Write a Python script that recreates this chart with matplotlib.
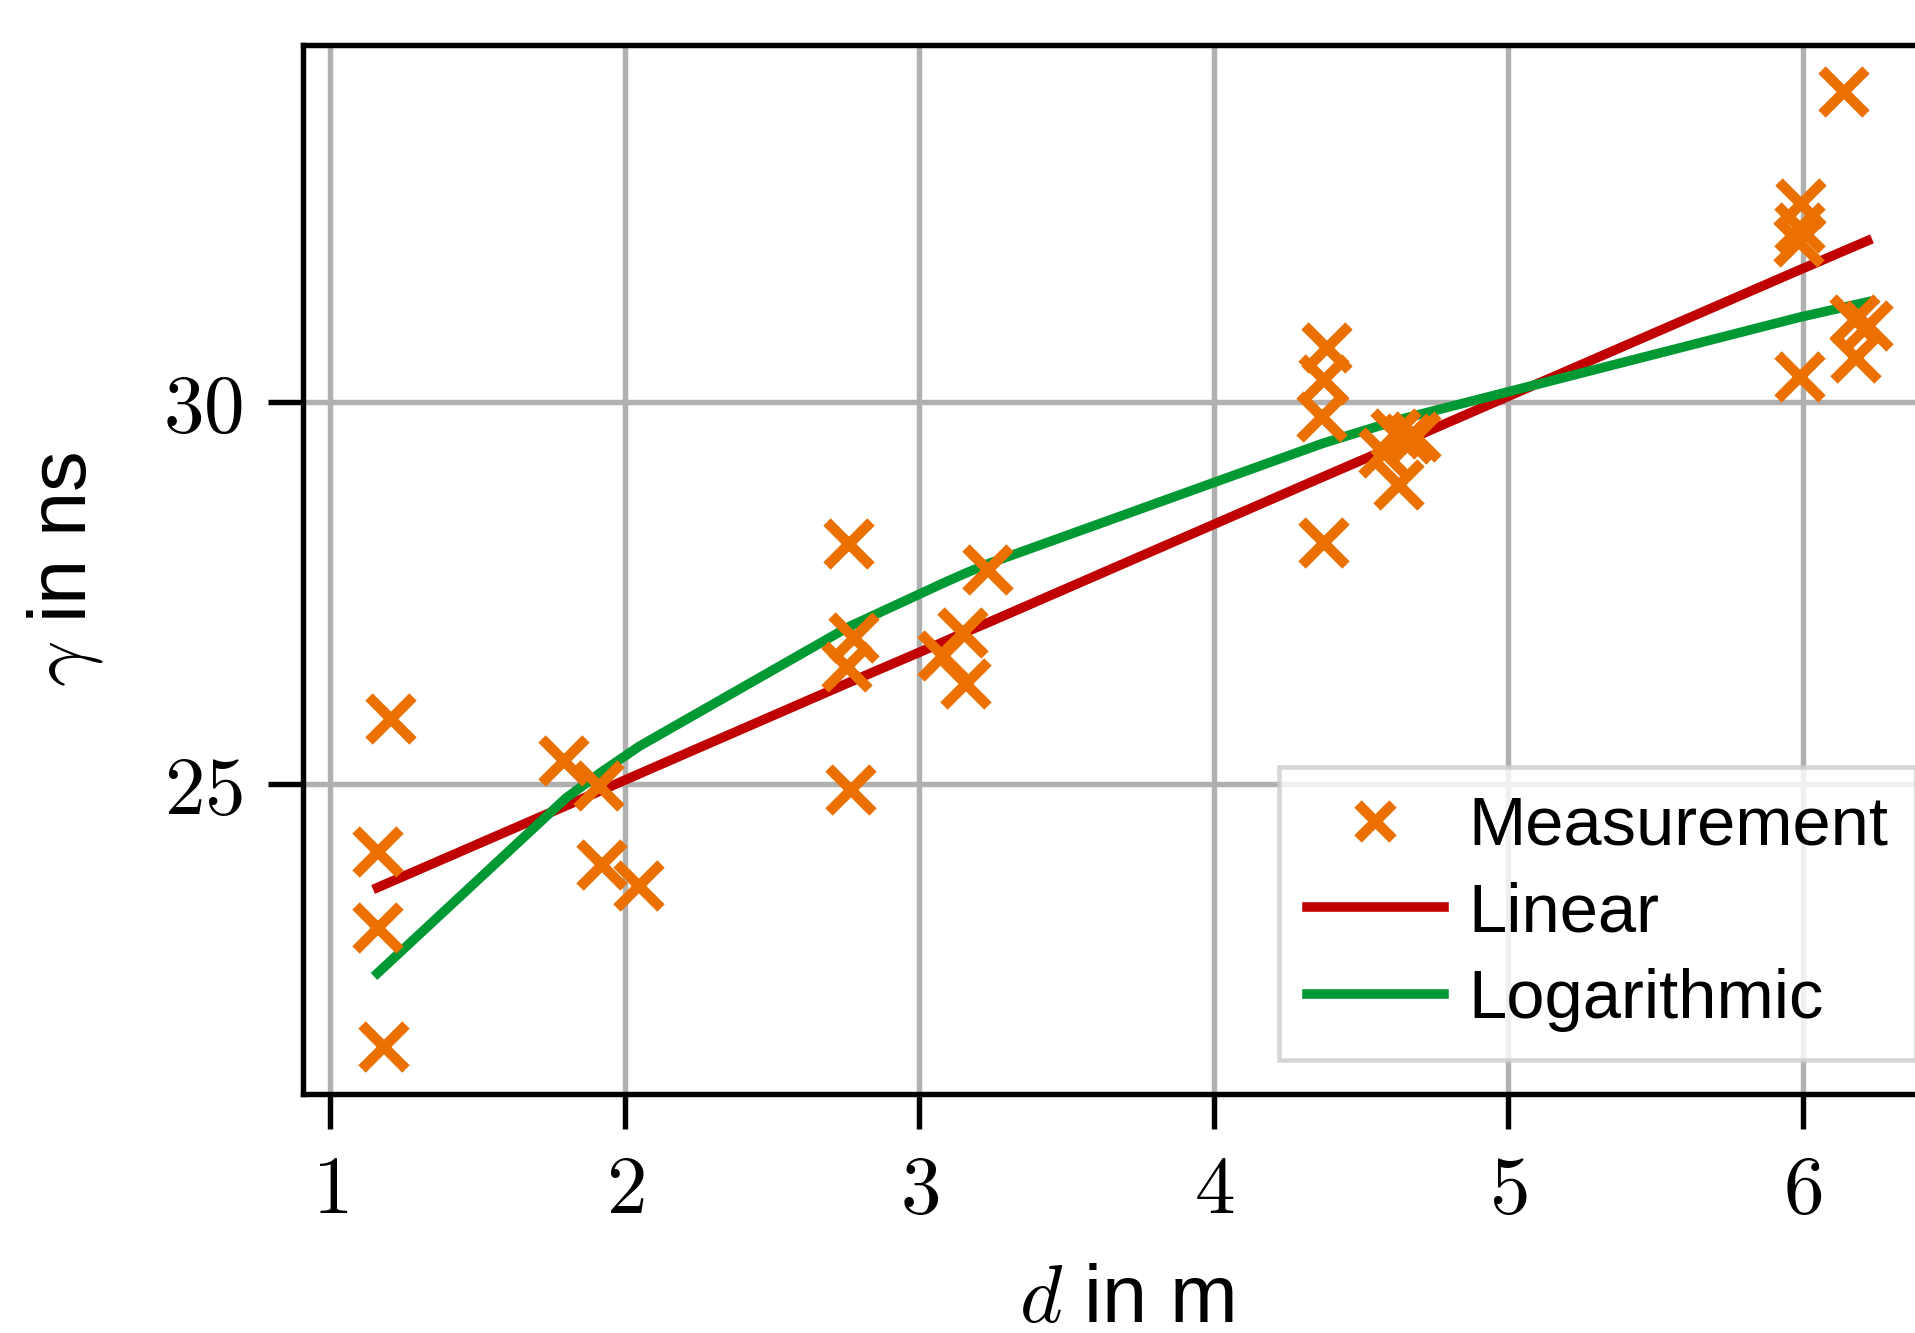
import matplotlib
matplotlib.use("Agg")
import matplotlib.pyplot as plt
from matplotlib.ticker import FuncFormatter

# Messpunkte
dist = [1.205, 1.162, 1.160, 1.183, 1.794, 1.912, 1.924, 2.048,
        2.760, 2.778, 2.756, 2.769, 3.147, 3.079, 3.158, 3.234,
        4.383, 4.375, 4.367, 4.373, 4.579, 4.620, 4.658, 4.686, 4.630,
        5.994, 5.991, 5.988, 5.990, 6.140, 6.176, 6.221, 6.180]
gamma = [25.85, 24.12, 23.12, 21.57, 25.31, 24.98, 23.94, 23.67,
         28.14, 26.92, 26.53, 24.92, 26.98, 26.68, 26.31, 27.80,
         30.71, 30.29, 29.80, 28.16, 29.34, 29.58, 29.52, 29.54, 28.92,
         32.59, 32.27, 32.09, 30.33, 34.05, 31.07, 30.99, 30.58]

# Fitkurven an den Stuetzstellen
fit_x = [1.16, 1.80, 1.92, 2.05, 2.76, 3.08, 3.15, 3.23, 4.37, 4.58, 4.65, 5.99, 6.22]
fit_lin = [23.65, 24.72, 24.92, 25.14, 26.33, 26.86, 26.98, 27.11, 29.02, 29.37, 29.49, 31.73, 32.11]
fit_log = [22.53, 24.82, 25.16, 25.50, 27.06, 27.63, 27.75, 27.88, 29.46, 29.71, 29.79, 31.11, 31.31]

x_ticks = [1, 2, 3, 4, 5, 6]
y_ticks = [25, 30]

plt.rcParams['font.family'] = ['Liberation Sans', 'DejaVu Sans']
plt.rcParams['mathtext.fontset'] = 'cm'

fig = plt.figure(figsize=(1915 / 300, 1333 / 300), dpi=300)
ax = fig.add_axes([303 / 1915, 1 - 1094 / 1333, (1950 - 303) / 1915, (1094 - 45) / 1333])

meas, = ax.plot(dist, gamma, ls='none', marker='x', ms=10.5, mew=2.5,
                color='#ec7000', zorder=3, label='Measurement')
lin, = ax.plot(fit_x, fit_lin, color='#c00000', lw=2.3, zorder=2, label='Linear')
log, = ax.plot(fit_x, fit_log, color='#009933', lw=2.3, zorder=2, label='Logarithmic')

ax.set_xlim(0.907, 6.5)
ax.set_ylim(20.95, 34.67)
ax.set_xticks(x_ticks)
ax.set_yticks(y_ticks)
fmt = FuncFormatter(lambda v, p: f'${v:g}$')
ax.xaxis.set_major_formatter(fmt)
ax.yaxis.set_major_formatter(fmt)
ax.tick_params(labelsize=19.5, length=8.4, width=1.3, pad=6)

ax.grid(True, color='#b0b0b0', lw=1.3)
ax.set_axisbelow(True)
for s in ax.spines.values():
    s.set_linewidth(1.3)

ax.set_xlabel(r'$d$ in m', fontsize=19.5, labelpad=8)
ax.set_ylabel(r'$\gamma$ in ns', fontsize=19.5, labelpad=14)

leg = ax.legend(handles=[meas, lin, log], loc='lower right', fontsize=16.5,
                fancybox=False, framealpha=0.8, edgecolor='#cccccc',
                handlelength=2.0, handletextpad=0.35, labelspacing=0.33,
                markerscale=0.8)
leg.get_frame().set_linewidth(1.1)

fig.savefig('out.png', dpi=300)
